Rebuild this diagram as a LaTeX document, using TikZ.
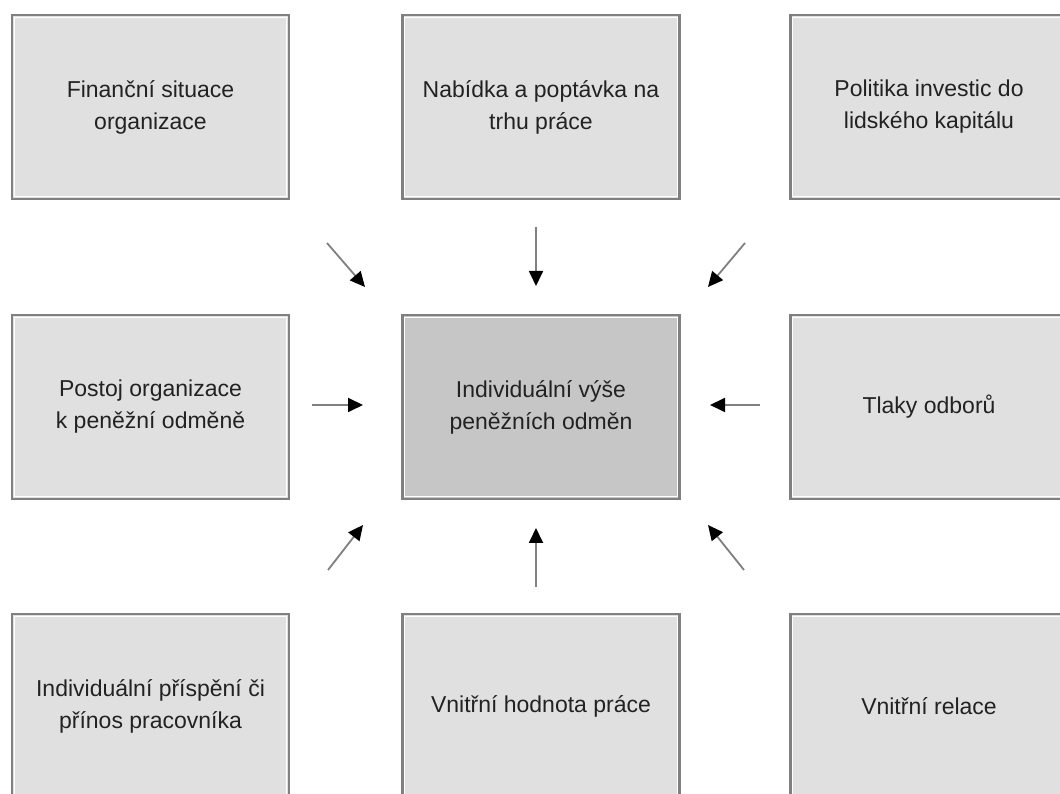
\documentclass[tikz,border=0pt]{standalone}
\usepackage{fontspec}
\setmainfont{Liberation Sans}
\usetikzlibrary{arrows.meta}
\definecolor{boxfill}{HTML}{E0E0E0}
\definecolor{centerfill}{HTML}{C6C6C6}
\definecolor{boxline}{HTML}{808080}
\definecolor{txt}{HTML}{222222}
\tikzset{
  box/.style={draw=boxline, line width=2.5pt, fill=boxfill, minimum width=277pt,
    minimum height=184pt, inner sep=0pt, align=center, text=txt,
    font=\fontsize{23}{32}\selectfont},
  centerbox/.style={box, fill=centerfill},
  innerline/.style={draw=white, line width=1pt},
  conn/.style={draw=boxline, line width=1.8pt,
    -{Triangle[length=15pt,width=14pt,color=black]}}
}
\begin{document}
\begin{tikzpicture}[x=1pt,y=1pt]
\clip (0,0) rectangle (1060,794);
\fill[white] (0,0) rectangle (1060,794);
% boxes
\node[box] (fin) at (150.5,687) {Finanční situace\\organizace};
\node[box] (nab) at (541,687) {Nabídka a poptávka na\\trhu práce};
\node[box] (pol) at (929,687) {Politika investic do\\lidského kapitálu};
\node[box] (pos) at (150.5,387) {Postoj organizace\\k peněžní odměně};
\node[centerbox] (ind) at (541,387) {Individuální výše\\peněžních odměn};
\node[box] (tla) at (929,387) {Tlaky odborů};
\node[box] (pri) at (150.5,88) {Individuální příspění či\\přínos pracovníka};
\node[box] (vhp) at (541,88) {Vnitřní hodnota práce};
\node[box] (vre) at (929,88) {Vnitřní relace};
\foreach \n in {fin,nab,pol,pos,ind,tla,pri,vhp,vre}
  \draw[innerline] ([shift={(3.5,-3.5)}]\n.north west) rectangle ([shift={(-3.5,3.5)}]\n.south east);
% arrow end points
\coordinate (finS) at (327,551); \coordinate (finE) at (365,507);
\coordinate (nabS) at (536,567); \coordinate (nabE) at (536,508);
\coordinate (polS) at (745,551); \coordinate (polE) at (708,507);
\coordinate (posS) at (312,389); \coordinate (posE) at (363,389);
\coordinate (tlaS) at (760,389); \coordinate (tlaE) at (710,389);
\coordinate (priS) at (328,224); \coordinate (priE) at (363,269);
\coordinate (vhpS) at (536,207); \coordinate (vhpE) at (536,266);
\coordinate (vreS) at (744,224); \coordinate (vreE) at (708,269);
\foreach \n in {fin,nab,pol,pos,tla,pri,vhp,vre}
  \draw[conn] (\n S) -- (\n E);
\end{tikzpicture}
\end{document}
